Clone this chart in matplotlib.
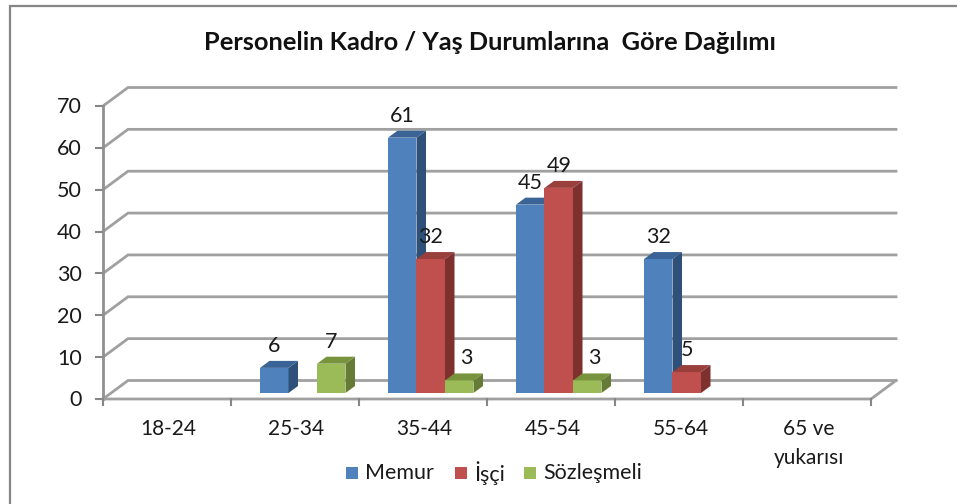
import matplotlib
matplotlib.use('Agg')
import matplotlib.pyplot as plt
from matplotlib.lines import Line2D
from matplotlib.patches import Rectangle
from matplotlib.transforms import Affine2D

categories = ['18-24', '25-34', '35-44', '45-54', '55-64', '65 ve\nyukarısı']
memur = [None, 6, 61, 45, 32, None]
isci = [None, None, 32, 49, 5, None]
sozlesmeli = [None, 7, 3, 3, None, None]
y_ticks = [0, 10, 20, 30, 40, 50, 60, 70]

series_names = ['Memur', 'İşçi', 'Sözleşmeli']
front_colors = ['#4f81bd', '#c0504d', '#9bbb59']
side_colors = ['#2f5078', '#7d312f', '#667c36']
top_colors = ['#3a6396', '#993f3c', '#77933c']

W, H = 957, 504
plt.rcParams['font.family'] = ['Lato', 'DejaVu Sans']

fig = plt.figure(figsize=(W / 100, H / 100), dpi=100)

# pixel box of the front plane of the 3d chart
left, right, bottom, top = 103, 871, 399, 106
ax = fig.add_axes([left / W, 1 - bottom / H, (right - left) / W, (bottom - top) / H])
ax.set_xlim(0, 6)
ax.set_ylim(0, 70)
ax.axis('off')

# page frame, only top and left are inside the crop
fig.add_artist(Line2D([9.5 / W, 9.5 / W, 1], [0, 1 - 6 / H, 1 - 6 / H], transform=fig.transFigure,
                      color='#868686', lw=1.6, solid_joinstyle='miter'))

grid_color = '#a0a0a0'
px_y = 70 / 293
px_x = 1 / 128
# depth of walls and bars, in data units
wall_dx = 25 * px_x
wall_dy = 18.5 * px_y
bar_dx = 9.5 * px_x
bar_dy = 7 * px_y
bar_w = 28.5 * px_x
gap = 29 * px_x
bar_shift = ax.transData + Affine2D().translate(0, 6)

for v in y_ticks:
    ax.plot([0, wall_dx, 6 + wall_dx], [v, v + wall_dy, v + wall_dy], color=grid_color, lw=2,
            clip_on=False, zorder=1, solid_joinstyle='miter')
    ax.plot([-7 * px_x, 0], [v, v], color='#868686', lw=1.5, clip_on=False, zorder=1)
    ax.text(-21 * px_x, v - 1.5 * px_y, str(v), ha='right', va='center', fontsize=15.5, color='#1a1a1a')

# floor and axes
ax.plot([0, 0], [0, 70], color='#909090', lw=2, clip_on=False, zorder=1)
ax.plot([0, 6, 6 + wall_dx], [0, 0, wall_dy], color=grid_color, lw=2, clip_on=False, zorder=1)
for i in range(7):
    ax.plot([i, i], [0, -6 * px_y], color='#868686', lw=1.5, clip_on=False, zorder=1)

for i, cat in enumerate(categories):
    ax.text(i + 0.5 + 1.5 * px_x, -20 * px_y, cat, ha='center', va='top', fontsize=15, color='#1a1a1a',
            linespacing=1.55)

for s, values in enumerate([memur, isci, sozlesmeli]):
    for i, v in enumerate(values):
        if v is None:
            continue
        x0 = i + gap + s * bar_w
        x1 = x0 + bar_w
        z = 3 + s
        ax.bar(x0, v, bar_w, align='edge', color=front_colors[s], transform=bar_shift, zorder=z,
               clip_on=False)
        ax.fill([x1, x1 + bar_dx, x1 + bar_dx, x1], [0, bar_dy, v + bar_dy, v], color=side_colors[s],
                transform=bar_shift, zorder=z, clip_on=False, lw=0)
        ax.fill([x0, x1, x1 + bar_dx, x0 + bar_dx], [v, v, v + bar_dy, v + bar_dy], color=top_colors[s],
                transform=bar_shift, zorder=z, clip_on=False, lw=0)
        # the small green 3s sit further right than the other labels
        nudge = 2 if v == 3 else -4.5
        ax.text(x0 + bar_w / 2 + bar_dx / 2 + nudge * px_x, v + bar_dy + 5 * px_y, str(v), ha='center',
                va='bottom', fontsize=15.5, color='#1a1a1a', transform=bar_shift, zorder=10)

fig.text(490 / W, 1 - 42 / H, 'Personelin Kadro / Yaş Durumlarına  Göre Dağılımı', ha='center', va='center',
         fontsize=18.3, fontweight='bold', color='#111111')

# legend, built by hand because the swatches sit tight against the labels
legend_x = [346, 455, 524]
for name, color, lx in zip(series_names, front_colors, legend_x):
    fig.add_artist(Rectangle((lx / W, 1 - 479 / H), 12 / W, 12 / H, transform=fig.transFigure,
                             facecolor=color, edgecolor='none'))
    fig.text((lx + 19) / W, 1 - 473 / H, name, ha='left', va='center', fontsize=15.5, color='#1a1a1a')

fig.savefig('out.png', dpi=100)
